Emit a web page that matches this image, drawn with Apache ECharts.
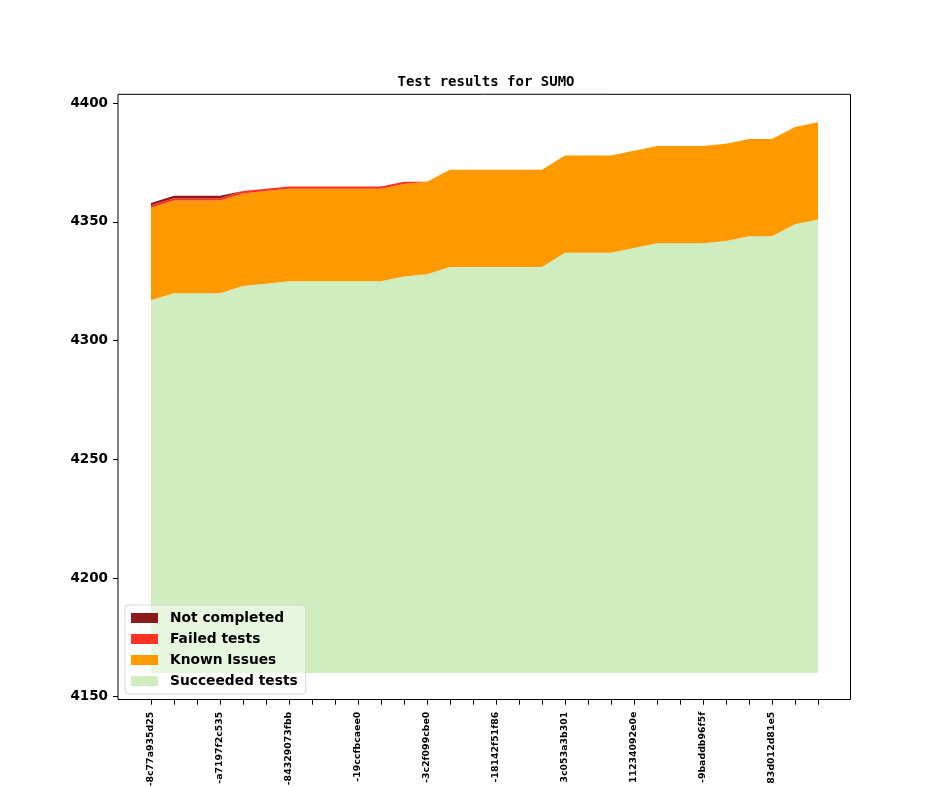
<!DOCTYPE html>
<html>
<head>
<meta charset="utf-8">
<title>Test results for SUMO</title>
<script src="https://cdn.jsdelivr.net/npm/echarts@6/dist/echarts.min.js"></script>
<style>
    html, body { margin: 0; padding: 0; background: #fff; }
    #chart { width: 944px; height: 787px; }
</style>
</head>
<body>
<div id="chart"></div>
<script>
// commit labels, only every third one is printed on the axis
var categories = [
    '-8c77a935d25', '', '',
    '-a7197f2c535', '', '',
    '-84329073fbb', '', '',
    '-19ccfbcaee0', '', '',
    '-3c2f099cbe0', '', '',
    '-18142f51f86', '', '',
    '3c053a3b301', '', '',
    '11234092e0e', '', '',
    '-9baddb96f5f', '', '',
    '83d012d81e5', '', ''
];
var succeeded = [4317, 4320, 4320, 4320, 4323, 4324, 4325, 4325, 4325, 4325,
                 4325, 4327, 4328, 4331, 4331, 4331, 4331, 4331, 4337, 4337,
                 4337, 4339, 4341, 4341, 4341, 4342, 4344, 4344, 4349, 4351];
var knownIssues = [39, 39, 39, 39, 39, 39, 39, 39, 39, 39,
                   39, 39, 39, 41, 41, 41, 41, 41, 41, 41,
                   41, 41, 41, 41, 41, 41, 41, 41, 41, 41];
var failed = [1, 1, 1, 1, 1, 1, 1, 1, 1, 1,
              1, 1, 0, 0, 0, 0, 0, 0, 0, 0,
              0, 0, 0, 0, 0, 0, 0, 0, 0, 0];
var notCompleted = [1, 1, 1, 1, 0, 0, 0, 0, 0, 0,
                    0, 0, 0, 0, 0, 0, 0, 0, 0, 0,
                    0, 0, 0, 0, 0, 0, 0, 0, 0, 0];
var baseline = 4160;
var yTicks = [4150, 4200, 4250, 4300, 4350, 4400];

var colors = {
    notCompleted: '#8b1a1a',
    failed: '#ff3322',
    known: '#ff9900',
    succeeded: '#cfedbf'
};

var chart = echarts.init(document.getElementById('chart'));

function layer(name, data, color, origin) {
    var s = {
        name: name,
        type: 'line',
        stack: 'tests',
        data: data,
        symbol: 'none',
        showSymbol: false,
        lineStyle: { color: color, width: 0.5, opacity: 0 },
        itemStyle: { color: color },
        areaStyle: { color: color, opacity: 1 }
    };
    if (origin !== undefined) s.areaStyle.origin = origin;
    return s;
}

var option = {
    animation: false,
    backgroundColor: '#fff',
    title: {
        text: 'Test results for SUMO',
        left: 481,
        top: 70,
        textAlign: 'center',
        textStyle: {
            fontFamily: 'DejaVu Sans Mono',
            fontWeight: 'bold',
            fontSize: 14,
            color: '#000'
        }
    },
    legend: {
        orient: 'vertical',
        left: 125,
        top: 605,
        padding: [6, 8, 6, 6],
        itemWidth: 27,
        itemHeight: 10,
        itemGap: 7,
        icon: 'rect',
        backgroundColor: 'rgba(255,255,255,0.5)',
        borderColor: '#d6d6d6',
        borderWidth: 1,
        borderRadius: 4,
        data: ['Not completed', 'Failed tests', 'Known Issues', 'Succeeded tests'],
        textStyle: {
            fontFamily: 'DejaVu Sans',
            fontWeight: 'bold',
            fontSize: 13.8,
            lineHeight: 12,
            color: '#000',
            padding: [0, 0, 0, 7]
        }
    },
    grid: {
        left: 151,
        right: 126,
        top: 103.3,
        bottom: 90.3,
        containLabel: false,
        outerBoundsMode: 'none'
    },
    xAxis: {
        type: 'category',
        boundaryGap: false,
        data: categories,
        offset: 3,
        axisLine: { show: false },
        axisTick: {
            show: true,
            interval: 0,
            length: 5,
            lineStyle: { color: '#000' }
        },
        axisLabel: {
            interval: 0,
            rotate: 90,
            margin: 12,
            fontFamily: 'DejaVu Sans',
            fontWeight: 'bold',
            fontSize: 9.4,
            color: '#000'
        },
        splitLine: { show: false }
    },
    yAxis: {
        type: 'value',
        min: yTicks[0],
        max: yTicks[yTicks.length - 1],
        interval: 50,
        offset: 33,
        axisLine: { show: false },
        axisTick: {
            show: true,
            length: 5,
            lineStyle: { color: '#000' }
        },
        axisLabel: {
            margin: 10,
            fontFamily: 'DejaVu Sans',
            fontWeight: 'bold',
            fontSize: 13.5,
            color: '#000',
            formatter: function (v) { return String(v); }
        },
        splitLine: { show: false }
    },
    graphic: [{
        type: 'rect',
        z: 100,
        silent: true,
        shape: { x: 118, y: 94.3, width: 732.5, height: 605.2 },
        style: { fill: null, stroke: '#000', lineWidth: 1 }
    }],
    series: [
        layer('Succeeded tests', succeeded, colors.succeeded, baseline),
        layer('Known Issues', knownIssues, colors.known),
        layer('Failed tests', failed, colors.failed),
        layer('Not completed', notCompleted, colors.notCompleted)
    ]
};

chart.setOption(option);
window.addEventListener('resize', function () {
    chart.resize();
});
</script>
</body>
</html>
